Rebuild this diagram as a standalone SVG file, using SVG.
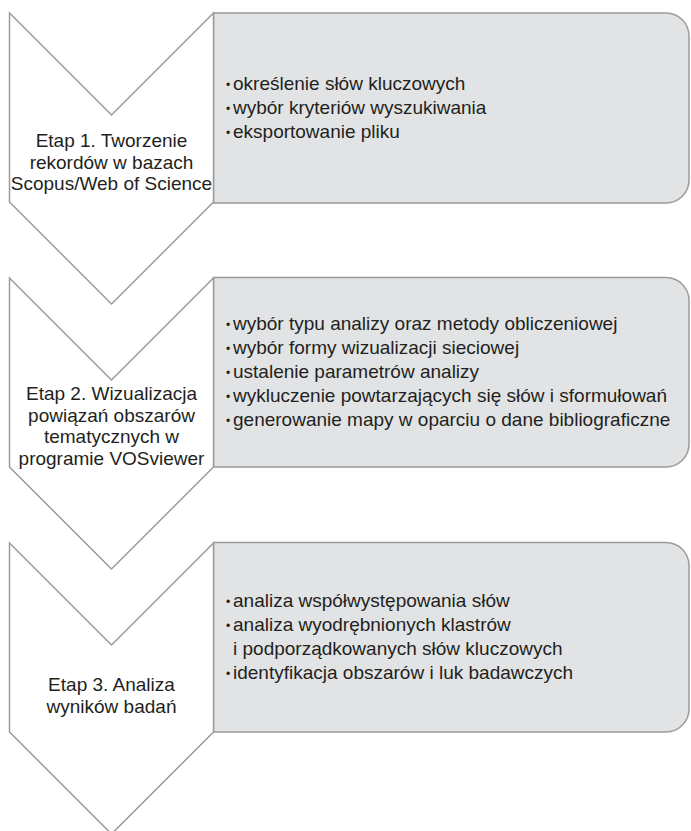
<svg xmlns="http://www.w3.org/2000/svg" width="691" height="831" viewBox="0 0 691 831">
  <style>
    .chev { fill: #ffffff; stroke: #9b9b9b; stroke-width: 1.5; stroke-linejoin: miter; }
    .box { fill: #e2e3e5; stroke: #9b9b9b; stroke-width: 1.5; }
    .stage { font-family: "Liberation Sans", Arial, sans-serif; font-size: 19px; fill: #231f20; text-anchor: middle; }
    .item { font-family: "Liberation Sans", Arial, sans-serif; font-size: 19px; fill: #231f20; }
    .dot { font-family: "Liberation Sans", Arial, sans-serif; font-size: 12px; fill: #231f20; text-anchor: middle; }
  </style>
  <rect width="691" height="831" fill="#ffffff"/>

  <!-- Stage 1 -->
  <g id="stage1">
    <path class="box" d="M213.5,13 H666 A23,23 0 0 1 689,36 V180 A23,23 0 0 1 666,203 H213.5 Z"/>
    <polygon class="chev" points="9.5,13 111.5,115 213.5,13 213.5,202 111.5,304 9.5,202"/>
    <text class="stage" x="111.5" y="147">Etap 1. Tworzenie</text>
    <text class="stage" x="111.5" y="168.5">rekordów w bazach</text>
    <text class="stage" x="111.5" y="190">Scopus/Web of Science</text>
    <text class="dot" x="228" y="89">•</text>
    <text class="item" x="233" y="90">określenie słów kluczowych</text>
    <text class="dot" x="228" y="113">•</text>
    <text class="item" x="233" y="114">wybór kryteriów wyszukiwania</text>
    <text class="dot" x="228" y="137">•</text>
    <text class="item" x="233" y="138">eksportowanie pliku</text>
  </g>

  <!-- Stage 2 -->
  <g id="stage2">
    <path class="box" d="M213.5,277.5 H666 A23,23 0 0 1 689,300.5 V444 A23,23 0 0 1 666,467 H213.5 Z"/>
    <polygon class="chev" points="9.5,278 111.5,380 213.5,278 213.5,467 111.5,569 9.5,467"/>
    <text class="stage" x="111.5" y="400">Etap 2. Wizualizacja</text>
    <text class="stage" x="111.5" y="421.5">powiązań obszarów</text>
    <text class="stage" x="111.5" y="443">tematycznych w</text>
    <text class="stage" x="111.5" y="464.5">programie VOSviewer</text>
    <text class="dot" x="228" y="329">•</text>
    <text class="item" x="233" y="330">wybór typu analizy oraz metody obliczeniowej</text>
    <text class="dot" x="228" y="353">•</text>
    <text class="item" x="233" y="354">wybór formy wizualizacji sieciowej</text>
    <text class="dot" x="228" y="377">•</text>
    <text class="item" x="233" y="378">ustalenie parametrów analizy</text>
    <text class="dot" x="228" y="401">•</text>
    <text class="item" x="233" y="402">wykluczenie powtarzających się słów i sformułowań</text>
    <text class="dot" x="228" y="425">•</text>
    <text class="item" x="233" y="426">generowanie mapy w oparciu o dane bibliograficzne</text>
  </g>

  <!-- Stage 3 -->
  <g id="stage3">
    <path class="box" d="M213.5,542.5 H666 A23,23 0 0 1 689,565.5 V709 A23,23 0 0 1 666,732 H213.5 Z"/>
    <polygon class="chev" points="9.5,543 111.5,645 213.5,543 213.5,732 111.5,834 9.5,732"/>
    <text class="stage" x="111.5" y="691">Etap 3. Analiza</text>
    <text class="stage" x="111.5" y="712.5">wyników badań</text>
    <text class="dot" x="228" y="606">•</text>
    <text class="item" x="233" y="607">analiza współwystępowania słów</text>
    <text class="dot" x="228" y="630">•</text>
    <text class="item" x="233" y="631">analiza wyodrębnionych klastrów</text>
    <text class="item" x="233" y="655">i podporządkowanych słów kluczowych</text>
    <text class="dot" x="228" y="678">•</text>
    <text class="item" x="233" y="679">identyfikacja obszarów i luk badawczych</text>
  </g>
</svg>
